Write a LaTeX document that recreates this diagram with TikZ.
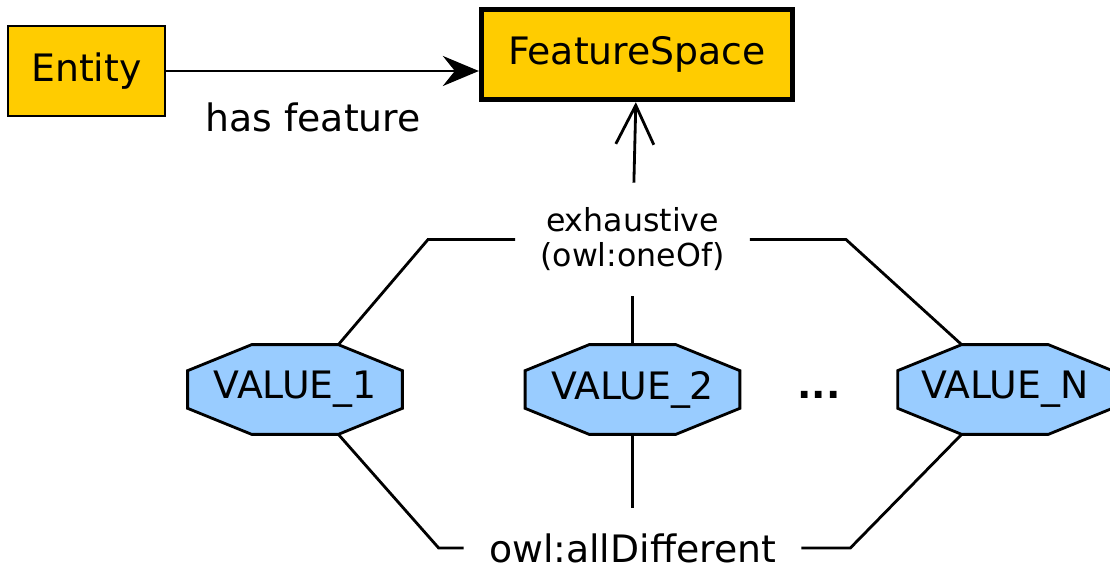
\documentclass[tikz,border=0pt]{standalone}
\usepackage{fontspec}
\setmainfont{DejaVu Sans}
\usetikzlibrary{arrows.meta, backgrounds}
\definecolor{boxyellow}{HTML}{FFCC00}
\definecolor{valueblue}{HTML}{99CCFF}

\begin{document}
\begin{tikzpicture}[font=\fontsize{21.5}{25}\selectfont,
		box/.style={draw, fill=boxyellow, line width=1.5pt, minimum width=3.14cm, minimum height=1.8cm},
		valuebox/.style={minimum width=4.28cm, minimum height=1.78cm, inner sep=0pt},
		octagon/.style={draw, fill=valueblue, line width=1.6pt, line join=miter},
		link/.style={line width=1.6pt},
		tag/.style={inner sep=0.5cm}]
		\useasboundingbox (0,0) rectangle (22.2,-11.44);
		\node[box] (entity) at (1.73, -1.42) {Entity};
		\node[box, line width=3pt, minimum width=6.22cm] (fspace) at (12.74, -1.09) {FeatureSpace};
		\node[valuebox] (v1) at (5.9, -7.79) {VALUE\_1};
		\node[valuebox] (v2) at (12.65, -7.79) {VALUE\_2};
		\node[valuebox] (vn) at (20.1, -7.79) {VALUE\_N};
		\node[anchor=base] (dots) at (16.38, -7.96) {\textbf{...}};
		\node[tag, align=center, font=\fontsize{18}{19.9}\selectfont] (oneof) at (12.65, -4.79) {exhaustive\\(owl:oneOf)};
		\node[tag] (alldiff) at (12.65, -10.96) {owl:allDifferent};
		\begin{scope}[on background layer]
			\foreach \v in {v1, v2, vn} {
				\draw[octagon] ([xshift=1.28cm]\v.north west) coordinate (\v-nw)
					-- ([xshift=-1.28cm]\v.north east) coordinate (\v-ne)
					-- ([yshift=-0.52cm]\v.north east) -- ([yshift=0.52cm]\v.south east)
					-- ([xshift=-1.28cm]\v.south east) coordinate (\v-se)
					-- ([xshift=1.28cm]\v.south west) coordinate (\v-sw)
					-- ([yshift=0.52cm]\v.south west) -- ([yshift=-0.52cm]\v.north west) -- cycle;
			}
		\end{scope}
		\draw[link, -{Stealth[length=7.2mm, width=6mm, inset=2.4mm]}] (entity) -- node[pos=0.47, below=0.5cm] {has feature} (entity -| fspace.west);
		\draw[link, -{Straight Barb[length=7.8mm, width=7.6mm]}] (oneof) -- (fspace);
		\draw[link] (oneof.west) -- ++(-1.74, 0) -- (v1-ne);
		\draw[link] (oneof.east) -- ++(1.92, 0) -- (vn-nw);
		\draw[link] (oneof) -- (v2);
		\draw[link] (v2) -- (alldiff);
		\draw[link] (alldiff.west) -- ++(-0.5, 0) -- (v1-se);
		\draw[link] (alldiff.east) -- ++(0.98, 0) -- (vn-sw);
	\end{tikzpicture}
\end{document}
